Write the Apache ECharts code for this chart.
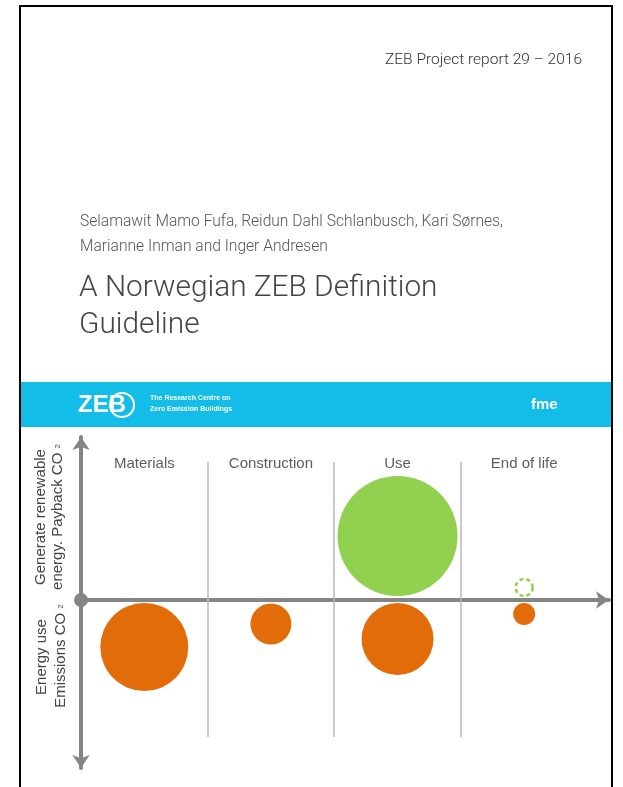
<!DOCTYPE html>
<html>
<head>
<meta charset="utf-8">
<script src="https://cdn.jsdelivr.net/npm/echarts@6/dist/echarts.min.js"></script>
<style>
  html, body { margin: 0; padding: 0; background: #fff; }
  #main { width: 623px; height: 787px; }
</style>
</head>
<body>
<div id="main"></div>
<script>
// life cycle stages (x categories)
const stages = ['Materials', 'Construction', 'Use', 'End of life'];
// emissions (below the axis): vertical position and bubble magnitude
const emissionPos = [-47, -24, -39, -14];
const emissionMag = [4.4, 2.05, 3.6, 1.1];
// payback / renewable generation (above the axis)
const paybackStage = [2];
const paybackPos = [64];
const paybackMag = [6.0];
// possible payback at end of life (dashed)
const potentialStage = [3];
const potentialPos = [12.5];
const potentialMag = [0.85];

const SIZE = 20; // px per magnitude unit

const chart = echarts.init(document.getElementById('main'));

const grey = '#858585';
const orange = '#e36c0a';
const green = '#92d050';
const txt = 'Liberation Sans, Arial, sans-serif';
const cover = 'Roboto, sans-serif';

let option = {
    backgroundColor: '#fff',
    animation: false,
    grid: { left: 81, top: 437, width: 528, height: 331 },
    xAxis: {
        type: 'value', min: 0, max: 4.17,
        axisLine: {
            onZero: true,
            lineStyle: { color: grey, width: 4 },
            symbol: ['none', 'arrow'], symbolSize: [13, 13]
        },
        axisTick: { show: false },
        axisLabel: { show: false },
        splitLine: { show: false }
    },
    yAxis: {
        type: 'value', min: -168, max: 163,
        axisLine: {
            onZero: true,
            lineStyle: { color: grey, width: 4 },
            symbol: ['arrow', 'arrow'], symbolSize: [13, 13]
        },
        axisTick: { show: false },
        axisLabel: { show: false },
        splitLine: { show: false }
    },
    series: [
        {
            // stage separators + stage names
            type: 'scatter',
            data: stages.map((s, i) => [i + 0.5, 136]),
            symbolSize: 0,
            label: {
                show: true, position: 'inside',
                formatter: p => stages[p.dataIndex],
                color: '#333', fontSize: 15, fontFamily: txt
            },
            markLine: {
                silent: true, symbol: 'none',
                lineStyle: { color: '#b8b8b8', width: 1.5, type: 'solid' },
                label: { show: false },
                data: [1, 2, 3].map(x => [{ coord: [x, 138] }, { coord: [x, -137] }])
            },
            z: 1
        },
        {
            type: 'scatter',
            data: emissionPos.map((y, i) => [i + 0.5, y, emissionMag[i]]),
            symbolSize: d => d[2] * SIZE,
            itemStyle: { color: orange, opacity: 1 },
            z: 3
        },
        {
            type: 'scatter',
            data: paybackPos.map((y, i) => [paybackStage[i] + 0.5, y, paybackMag[i]]),
            symbolSize: d => d[2] * SIZE,
            itemStyle: { color: green, opacity: 1 },
            z: 3
        },
        {
            type: 'scatter',
            data: potentialPos.map((y, i) => [potentialStage[i] + 0.5, y, potentialMag[i]]),
            symbolSize: d => d[2] * SIZE,
            itemStyle: { color: 'rgba(0,0,0,0)', borderColor: green, borderWidth: 2.5, borderType: [4, 3], opacity: 1 },
            z: 3
        },
        {
            // origin dot
            type: 'scatter',
            data: [[0, 0]],
            symbolSize: 14,
            itemStyle: { color: grey, opacity: 1 },
            z: 5
        }
    ],
    graphic: [
        // page frame
        { type: 'rect', shape: { x: 20, y: 6, width: 592, height: 800 }, style: { fill: 'none', stroke: '#000', lineWidth: 2 }, z: 10 },
        { type: 'text', x: 582, y: 60, style: { text: 'ZEB Project report 29 – 2016', align: 'right', verticalAlign: 'middle', fill: '#333', font: '300 15.5px ' + cover } },
        { type: 'text', x: 80, y: 222, style: { text: 'Selamawit Mamo Fufa, Reidun Dahl Schlanbusch, Kari Sørnes,', verticalAlign: 'middle', fill: '#555', font: '300 15.6px ' + cover } },
        { type: 'text', x: 80, y: 247, style: { text: 'Marianne Inman and Inger Andresen', verticalAlign: 'middle', fill: '#555', font: '300 15.6px ' + cover } },
        { type: 'text', x: 79, y: 289, style: { text: 'A Norwegian ZEB Definition', verticalAlign: 'middle', fill: '#444', font: '300 29.8px ' + cover } },
        { type: 'text', x: 79, y: 326, style: { text: 'Guideline', verticalAlign: 'middle', fill: '#444', font: '300 29.8px ' + cover } },
        // cyan band
        { type: 'rect', shape: { x: 20, y: 382, width: 592, height: 45 }, style: { fill: '#13bde7' } },
        { type: 'text', x: 78, y: 405, style: { text: 'ZEB', verticalAlign: 'middle', fill: '#fff', font: 'bold 24px ' + txt } },
        { type: 'circle', shape: { cx: 122, cy: 405, r: 12 }, style: { fill: 'none', stroke: '#fff', lineWidth: 2 } },
        { type: 'text', x: 150, y: 398, style: { text: 'The Research Centre on', verticalAlign: 'middle', fill: '#fff', font: 'bold 7px ' + txt } },
        { type: 'text', x: 150, y: 409, style: { text: 'Zero Emission Buildings', verticalAlign: 'middle', fill: '#fff', font: 'bold 7px ' + txt } },
        { type: 'text', x: 531, y: 405, style: { text: 'fme', verticalAlign: 'middle', fill: '#fff', font: 'bold 15px ' + txt } },
        // axis titles
        {
            type: 'text', x: 41, y: 517, rotation: Math.PI / 2,
            style: { text: 'Generate renewable', align: 'center', verticalAlign: 'middle', fill: '#444', font: '15px ' + txt }
        },
        {
            type: 'text', x: 58, y: 517, rotation: Math.PI / 2,
            style: {
                text: '{t|energy. Payback CO }{s|2}', align: 'center', verticalAlign: 'middle',
                rich: { t: { fill: '#444', font: '15px ' + txt }, s: { fill: '#444', font: '8px ' + txt } }
            }
        },
        {
            type: 'text', x: 42, y: 657, rotation: Math.PI / 2,
            style: { text: 'Energy use', align: 'center', verticalAlign: 'middle', fill: '#444', font: '15px ' + txt }
        },
        {
            type: 'text', x: 61, y: 656, rotation: Math.PI / 2,
            style: {
                text: '{t|Emissions CO }{s|2}', align: 'center', verticalAlign: 'middle',
                rich: { t: { fill: '#444', font: '15px ' + txt }, s: { fill: '#444', font: '8px ' + txt } }
            }
        }
    ]
};

chart.setOption(option);
</script>
</body>
</html>
